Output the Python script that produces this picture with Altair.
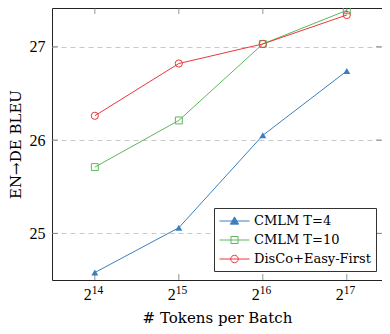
import altair as alt
import pandas as pd

# ---- data ----
x_exp = [14, 15, 16, 17]                     # x positions are 2^exp tokens per batch
series_names = ["CMLM T=4", "CMLM T=10", "DisCo+Easy-First"]
cmlm_t4 = [24.58, 25.06, 26.05, 26.74]
cmlm_t10 = [25.71, 26.21, 27.03, 27.39]
disco = [26.26, 26.82, 27.03, 27.34]
y_ticks = [25, 26, 27]

colors = ["#3a7fc0", "#5cb85c", "#e8393c"]
fills = ["#3a7fc0", "transparent", "transparent"]
point_shapes = ["triangle-up", "square", "circle"]
point_filled = [True, False, False]
point_sizes = [48, 48, 52]
legend_paths = [
    "M-1,0H3M1,-0.55L1.55,0.42H0.45Z",
    "M-1,0H3M0.53,-0.47H1.47V0.47H0.53Z",
    "M-1,0H3M1.5,0A0.5,0.5 0 1,1 0.5,0A0.5,0.5 0 1,1 1.5,0Z",
]

rows = []
for name, vals in zip(series_names, [cmlm_t4, cmlm_t10, disco]):
    for e, v in zip(x_exp, vals):
        rows.append({"series": name, "exp": e, "bleu": v})
df = pd.DataFrame(rows)
xt = pd.DataFrame({"exp": x_exp, "label": [str(e) for e in x_exp]})
yt = pd.DataFrame({"bleu": y_ticks})

W, H = 330, 272
NUMFONT = "Liberation Serif"
FONT = "DejaVu Serif"
xscale = alt.Scale(domain=[13.49, 17.419], nice=False, zero=False)
yscale = alt.Scale(domain=[24.5, 27.415], nice=False, zero=False)

x_enc = alt.X(
    "exp:Q", scale=xscale,
    axis=alt.Axis(labels=False, ticks=False, grid=False, domain=False,
                  title="# Tokens per Batch", titlePadding=30, titleFont=FONT,
                  titleFontSize=15, titleFontWeight="normal", titleColor="black"),
)
y_enc = alt.Y(
    "bleu:Q", scale=yscale,
    axis=alt.Axis(values=y_ticks, ticks=False, domain=False, grid=True,
                  gridDash=[5, 4], gridColor="#c8c8c8", gridWidth=1,
                  labelFont=NUMFONT, labelFontSize=16, labelColor="black", labelPadding=7,
                  title="EN→DE BLEU", titleFont=FONT, titleFontSize=15,
                  titleFontWeight="normal", titleColor="black", titlePadding=6),
)

cscale = alt.Scale(domain=series_names, range=colors)

leg = alt.Legend(
    title=None, orient="none", legendX=162, legendY=200, padding=5,
    strokeColor="#333333", fillColor="white", cornerRadius=0,
    labelFont=FONT, labelFontSize=13, labelColor="black",
    symbolSize=225, symbolStrokeWidth=1, labelOffset=19, rowPadding=4,
)

lines = alt.Chart(df).mark_line(strokeWidth=1).encode(
    x=x_enc, y=y_enc,
    color=alt.Color("series:N", scale=cscale, legend=leg),
)

point_layers = []
for name, col, shp, fl, sz in zip(series_names, colors, point_shapes, point_filled, point_sizes):
    point_layers.append(
        alt.Chart(df).transform_filter(alt.datum.series == name)
        .mark_point(shape=shp, filled=fl, color=col, size=sz, opacity=1, strokeWidth=1)
        .encode(x=x_enc, y=y_enc)
    )

# legend-only layer: its points are moved outside the plot and clipped away
legend_layer = (
    alt.Chart(df)
    .transform_calculate(exp="0")
    .mark_point(opacity=1, strokeWidth=1, clip=True)
    .encode(
        x=x_enc, y=y_enc,
        color=alt.Color("series:N", scale=cscale, legend=leg),
        fill=alt.Fill("series:N", scale=alt.Scale(domain=series_names, range=fills), legend=leg),
        shape=alt.Shape("series:N", scale=alt.Scale(domain=series_names, range=legend_paths), legend=leg),
    )
)

tick_color = "#666666"
xt_bottom = alt.Chart(xt).mark_tick(color=tick_color, thickness=1, size=6, orient="vertical").encode(
    x=x_enc, y=alt.value(H - 3))
xt_top = alt.Chart(xt).mark_tick(color=tick_color, thickness=1, size=6, orient="vertical").encode(
    x=x_enc, y=alt.value(3))
yt_left = alt.Chart(yt).mark_tick(color=tick_color, thickness=1, size=6, orient="horizontal").encode(
    y=y_enc, x=alt.value(3))
yt_right = alt.Chart(yt).mark_tick(color=tick_color, thickness=1, size=6, orient="horizontal").encode(
    y=y_enc, x=alt.value(W - 3))

lab_base = alt.Chart(xt).mark_text(text="2", align="right", baseline="alphabetic", dx=-3,
                                   font=NUMFONT, fontSize=16, color="black").encode(
    x=x_enc, y=alt.value(292))
lab_exp = alt.Chart(xt).mark_text(align="left", baseline="alphabetic", dx=-3,
                                  font=NUMFONT, fontSize=11.5, color="black").encode(
    x=x_enc, y=alt.value(286), text="label:N")

chart = alt.layer(
    lines, *point_layers, legend_layer,
    xt_bottom, xt_top, yt_left, yt_right, lab_base, lab_exp,
).properties(
    width=W, height=H,
    autosize=alt.AutoSizeParams(type="none"),
    padding={"left": 44, "top": 0, "right": 0, "bottom": 46},
).configure_view(stroke="#222222", strokeWidth=1)

chart.save("out.html", embed_options={"renderer": "svg", "actions": False})
